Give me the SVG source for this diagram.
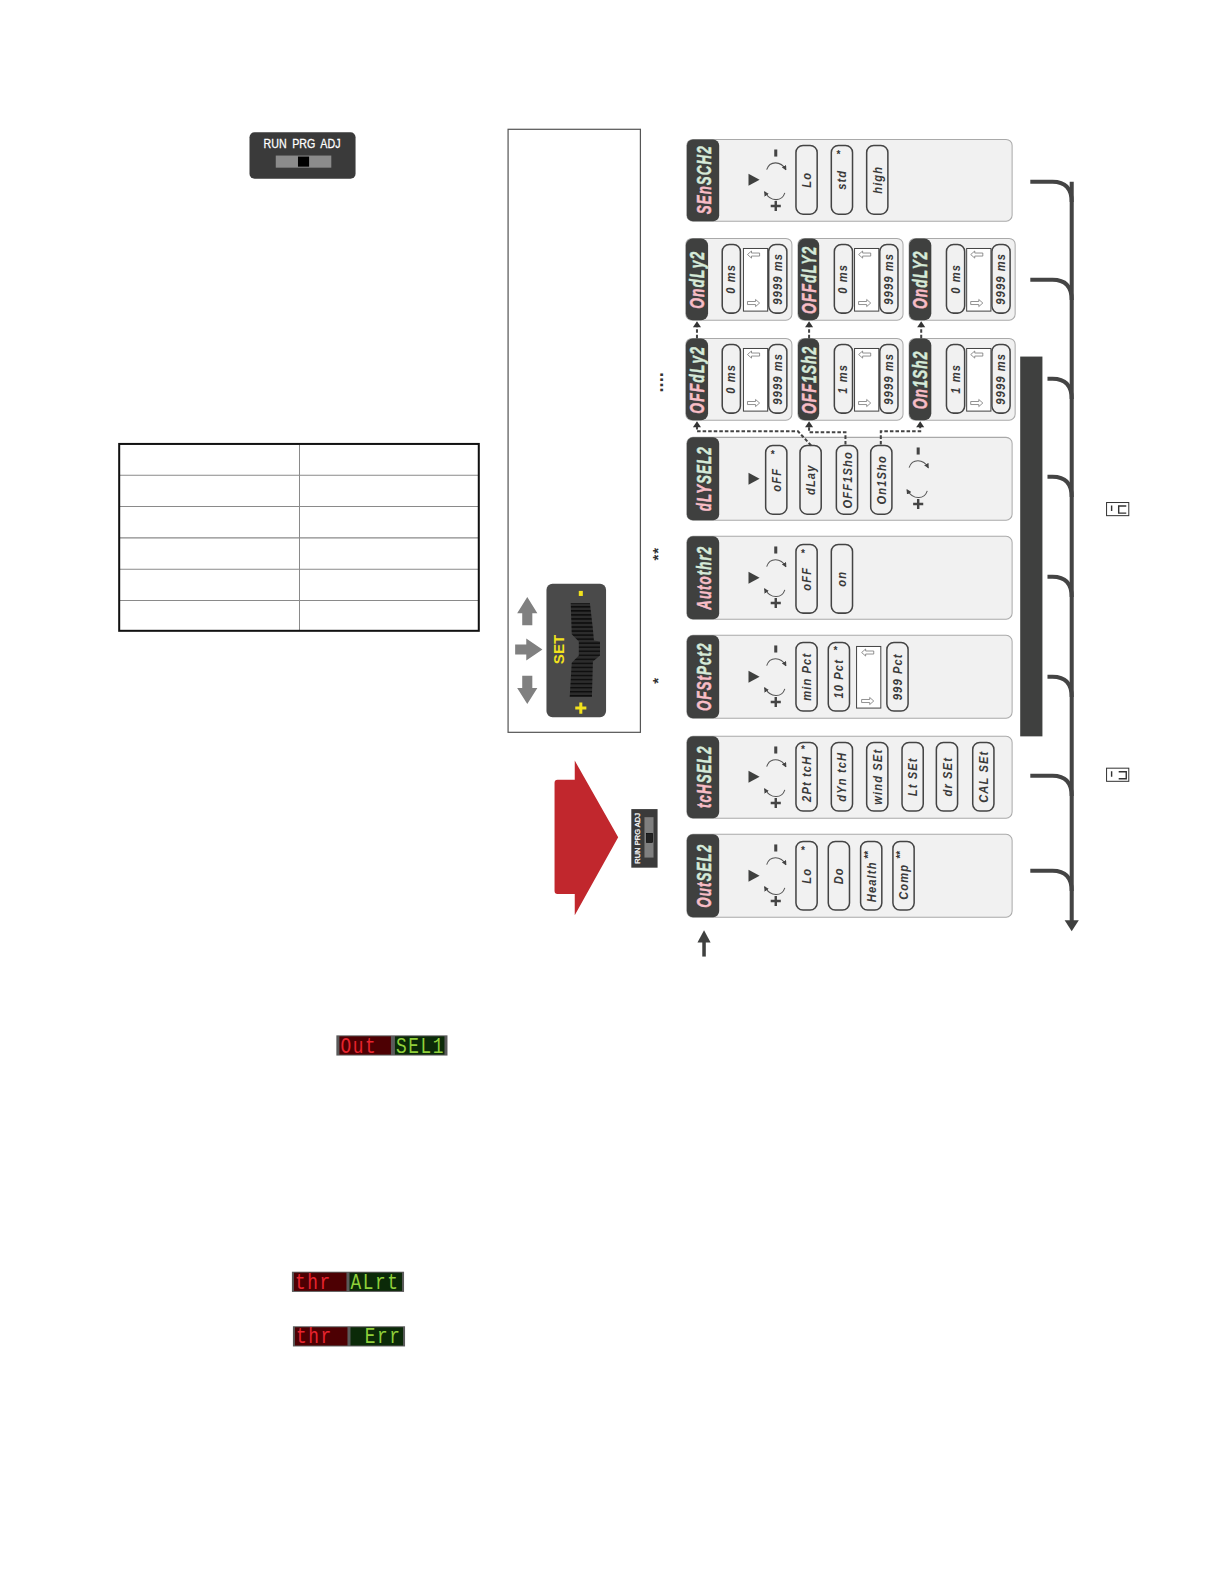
<svg xmlns="http://www.w3.org/2000/svg" width="1224" height="1584" viewBox="0 0 1224 1584">
<style>
text{font-family:"Liberation Sans",Arial,sans-serif}
.card{fill:#f1f1f1;stroke:#a9a9a9;stroke-width:1}
.tt{fill:#3f403f}
.pill{fill:#f1f1f1;stroke:#444;stroke-width:1.5}
.bx{fill:#fff;stroke:#444;stroke-width:1}
.t{font-weight:700;font-style:italic;font-size:20px;text-anchor:middle;fill:#d6ead9;stroke:#d6ead9;stroke-width:.5px;letter-spacing:1.6px}
.ts{font-size:19.500px}
.pk{fill:#f7bdc6;stroke:#f7bdc6}
.l{font-weight:700;font-style:italic;font-size:13px;text-anchor:middle;fill:#3a3a3a;letter-spacing:1.300px}
.st{font-weight:700;font-size:10px;text-anchor:middle;fill:#333}
.sr{font-weight:700;font-size:10px;fill:#333}
.dash{fill:none;stroke:#444;stroke-width:2;stroke-dasharray:3.500 2}
.bus{fill:none;stroke:#444;stroke-width:4}
.seg{font-family:"Liberation Mono",monospace;font-size:22px;letter-spacing:2px}
.sw{fill:#fff;stroke:#fff;stroke-width:.25px}
</style>
<defs>
<marker id="a1" markerWidth="5" markerHeight="5" refX="4" refY="2.5" orient="auto" markerUnits="userSpaceOnUse"><path d="M0 0L5 2.500L0 5Z" fill="#444"/></marker>
<pattern id="rib" width="6" height="4" patternUnits="userSpaceOnUse"><rect width="6" height="4" fill="#2c2c2c"/><rect width="6" height="1.500" fill="#0e0e0e"/></pattern>
<g id="dial">
<rect x="-1.500" y="10" width="3" height="7" fill="#444"/>
<path d="M-5 66H5M0 61V71" stroke="#444" stroke-width="2.400" fill="none"/>
<path d="M-9 30C-6 21 5 21 10 30" fill="none" stroke="#555" marker-end="url(#a1)"/>
<path d="M9 53C6 62 -5 62 -11 52" fill="none" stroke="#555" marker-end="url(#a1)"/>
</g>
<polygon id="tri" points="0,-6 11,0 0,6" fill="#3f403f"/>
<path id="ua" d="M-6 0L-2 -3.500V-1.500H6V1.500H-2V3.500Z" fill="#fff" stroke="#777" stroke-width=".8"/>
<path id="da" d="M6 0L2 -3.500V-1.500H-6V1.500H2V3.500Z" fill="#fff" stroke="#777" stroke-width=".8"/>
</defs>
<g id="page" transform="scale(1.0101)">

<g id="switch-top">
<rect x="247" y="131" width="105" height="46" rx="5" fill="#3a3a3a"/>
<text class="sw" transform="translate(299 147) scale(.88 1)" font-size="12" text-anchor="middle" word-spacing="3">RUN PRG ADJ</text>
<rect x="273" y="154" width="55" height="12" fill="#8b8b8b"/>
<rect x="295" y="155" width="11" height="10" fill="#000"/>
</g>

<g id="table" fill="none">
<path d="M118 470.500H474M118 501.500H474M118 532.500H474M118 563.500H474M118 594.500H474M296.500 440V624" stroke="#8a8a8a" stroke-width="1"/>
<rect x="118" y="439.500" width="356" height="185" stroke="#111" stroke-width="2"/>
</g>

<g id="legend">
<rect x="503" y="128" width="131" height="597" fill="#fff" stroke="#555" stroke-width="1.200"/>
<path d="M522 591L532 607H527V619H517V607H512Z" fill="#808080"/>
<path d="M537 643L521 654V648H510V638H521V632Z" fill="#808080"/>
<path d="M522 697L532 681H527V669H517V681H512Z" fill="#808080"/>
<rect x="541" y="578" width="59" height="132" rx="6" fill="#4a4a4a"/>
<path d="M565 597H584L587 623L588 634L594 635V649L587 655L586 690H564L566 656L573 649V635L566 628Z" fill="url(#rib)"/>
<text transform="translate(558 643) rotate(-90)" font-size="15" font-weight="700" fill="#f2e21d" text-anchor="middle">SET</text>
<rect x="573" y="585" width="4" height="5" fill="#f2e21d"/>
<path d="M569.500 701H580.500M575 695.500V706.500" stroke="#f2e21d" stroke-width="3" fill="none"/>
</g>

<g id="notes" fill="#333" font-weight="700">
<text transform="translate(656.500 388.500) rotate(-90)" font-size="18">....</text>
<text transform="translate(656 555) rotate(-90)" font-size="15" letter-spacing="1">**</text>
<text transform="translate(656 677) rotate(-90)" font-size="15">*</text>
</g>

<g id="enter-arrow">
<path d="M552 772H569V753L612 829L569 906V885H552Q549 885 549 882V775Q549 772 552 772Z" fill="#c1272d"/>
</g>
<g id="switch-small">
<rect x="625" y="801" width="26" height="58" fill="#3a3a3a"/>
<text class="sw" transform="translate(634 830) rotate(-90)" font-size="7.500" text-anchor="middle">RUN PRG ADJ</text>
<rect x="638" y="809" width="9" height="40" fill="#7f7f7f"/>
<rect x="640" y="825" width="6" height="9" fill="#222" stroke="#000" stroke-width=".6"/>
</g>

<g id="SEnSCH2">
<rect class="card" x="680" y="138" width="322" height="81" rx="6"/>
<rect class="tt" x="680" y="138" width="32" height="81" rx="6"/>
<text class="t" transform="translate(704 178) rotate(-90) scale(.66 1)"><tspan class="pk">SEn</tspan>SCH2</text>
<use href="#tri" x="741" y="178"/><use href="#dial" x="768" y="138"/>
<rect class="pill" x="788" y="144" width="21" height="68" rx="7"/><text class="l" transform="translate(803 178) rotate(-90) scale(.85 1)">Lo</text>
<rect class="pill" x="823" y="144" width="21" height="68" rx="7"/><text class="l" transform="translate(838 178) rotate(-90) scale(.85 1)">std</text><text class="st" x="830" y="156">*</text>
<rect class="pill" x="858" y="144" width="21" height="68" rx="7"/><text class="l" transform="translate(873 178) rotate(-90) scale(.85 1)">high</text>
</g>

<g id="OndLy2">
<rect class="card" x="679" y="236" width="105" height="81" rx="6"/>
<rect class="tt" x="679" y="236" width="22" height="81" rx="7"/>
<text class="t ts" transform="translate(697 277) rotate(-90) scale(.7 1)"><tspan class="pk">On</tspan>dLy2</text>
<rect class="pill" x="715" y="242" width="18" height="68" rx="7"/><text class="l" transform="translate(728 276) rotate(-90) scale(.85 1)">0 ms</text>
<rect class="bx" x="736" y="246" width="24" height="62"/><use href="#ua" x="746" y="252"/><use href="#da" x="746" y="300"/>
<rect class="pill" x="761" y="242" width="18" height="68" rx="7"/><text class="l" transform="translate(774 276) rotate(-90) scale(.85 1)">9999 ms</text>
</g>
<g id="OFFdLY2">
<rect class="card" x="790" y="236" width="104" height="81" rx="6"/>
<rect class="tt" x="790" y="236" width="21" height="81" rx="7"/>
<text class="t ts" transform="translate(808 277) rotate(-90) scale(.7 1)"><tspan class="pk">OFF</tspan>dLY2</text>
<rect class="pill" x="826" y="242" width="18" height="68" rx="7"/><text class="l" transform="translate(839 276) rotate(-90) scale(.85 1)">0 ms</text>
<rect class="bx" x="846" y="246" width="24" height="62"/><use href="#ua" x="856" y="252"/><use href="#da" x="856" y="300"/>
<rect class="pill" x="871" y="242" width="18" height="68" rx="7"/><text class="l" transform="translate(884 276) rotate(-90) scale(.85 1)">9999 ms</text>
</g>
<g id="OndLY2">
<rect class="card" x="900" y="236" width="105" height="81" rx="6"/>
<rect class="tt" x="900" y="236" width="22" height="81" rx="7"/>
<text class="t ts" transform="translate(918 277) rotate(-90) scale(.7 1)"><tspan class="pk">On</tspan>dLY2</text>
<rect class="pill" x="937" y="242" width="18" height="68" rx="7"/><text class="l" transform="translate(950 276) rotate(-90) scale(.85 1)">0 ms</text>
<rect class="bx" x="957" y="246" width="24" height="62"/><use href="#ua" x="967" y="252"/><use href="#da" x="967" y="300"/>
<rect class="pill" x="982" y="242" width="18" height="68" rx="7"/><text class="l" transform="translate(995 276) rotate(-90) scale(.85 1)">9999 ms</text>
</g>

<g id="OFFdLy2">
<rect class="card" x="679" y="335" width="105" height="81" rx="6"/>
<rect class="tt" x="679" y="335" width="22" height="81" rx="7"/>
<text class="t ts" transform="translate(697 376) rotate(-90) scale(.7 1)"><tspan class="pk">OFF</tspan>dLy2</text>
<rect class="pill" x="715" y="341" width="18" height="68" rx="7"/><text class="l" transform="translate(728 375) rotate(-90) scale(.85 1)">0 ms</text>
<rect class="bx" x="736" y="345" width="24" height="62"/><use href="#ua" x="746" y="351"/><use href="#da" x="746" y="399"/>
<rect class="pill" x="761" y="341" width="18" height="68" rx="7"/><text class="l" transform="translate(774 375) rotate(-90) scale(.85 1)">9999 ms</text>
</g>
<g id="OFF1Sh2">
<rect class="card" x="790" y="335" width="104" height="81" rx="6"/>
<rect class="tt" x="790" y="335" width="21" height="81" rx="7"/>
<text class="t ts" transform="translate(808 376) rotate(-90) scale(.7 1)"><tspan class="pk">OFF</tspan>1Sh2</text>
<rect class="pill" x="826" y="341" width="18" height="68" rx="7"/><text class="l" transform="translate(839 375) rotate(-90) scale(.85 1)">1 ms</text>
<rect class="bx" x="846" y="345" width="24" height="62"/><use href="#ua" x="856" y="351"/><use href="#da" x="856" y="399"/>
<rect class="pill" x="871" y="341" width="18" height="68" rx="7"/><text class="l" transform="translate(884 375) rotate(-90) scale(.85 1)">9999 ms</text>
</g>
<g id="On1Sh2">
<rect class="card" x="900" y="335" width="105" height="81" rx="6"/>
<rect class="tt" x="900" y="335" width="22" height="81" rx="7"/>
<text class="t ts" transform="translate(918 376) rotate(-90) scale(.7 1)"><tspan class="pk">On</tspan>1Sh2</text>
<rect class="pill" x="937" y="341" width="18" height="68" rx="7"/><text class="l" transform="translate(950 375) rotate(-90) scale(.85 1)">1 ms</text>
<rect class="bx" x="957" y="345" width="24" height="62"/><use href="#ua" x="967" y="351"/><use href="#da" x="967" y="399"/>
<rect class="pill" x="982" y="341" width="18" height="68" rx="7"/><text class="l" transform="translate(995 375) rotate(-90) scale(.85 1)">9999 ms</text>
</g>

<g id="dLYSEL2">
<rect class="card" x="680" y="433" width="322" height="82" rx="6"/>
<rect class="tt" x="680" y="433" width="32" height="82" rx="6"/>
<text class="t" transform="translate(704 474) rotate(-90) scale(.66 1)"><tspan class="pk">dLY</tspan>SEL2</text>
<use href="#tri" x="741" y="474"/><use href="#dial" x="909" y="433"/>
<rect class="pill" x="758" y="441" width="21" height="68" rx="7"/><text class="l" transform="translate(773 475) rotate(-90) scale(.85 1)">oFF</text><text class="st" x="765" y="453">*</text>
<rect class="pill" x="792" y="441" width="21" height="68" rx="7"/><text class="l" transform="translate(807 475) rotate(-90) scale(.85 1)">dLay</text>
<rect class="pill" x="828" y="441" width="21" height="68" rx="7"/><text class="l" transform="translate(843 475) rotate(-90) scale(.85 1)">OFF1Sho</text>
<rect class="pill" x="862" y="441" width="21" height="68" rx="7"/><text class="l" transform="translate(877 475) rotate(-90) scale(.85 1)">On1Sho</text>
</g>

<g id="Autothr2">
<rect class="card" x="680" y="531" width="322" height="82" rx="6"/>
<rect class="tt" x="680" y="531" width="32" height="82" rx="6"/>
<text class="t" transform="translate(704 572) rotate(-90) scale(.66 1)"><tspan class="pk">Auto</tspan>thr2</text>
<use href="#tri" x="741" y="572"/><use href="#dial" x="768" y="531"/>
<rect class="pill" x="788" y="539" width="21" height="68" rx="7"/><text class="l" transform="translate(803 573) rotate(-90) scale(.85 1)">oFF</text><text class="st" x="795" y="551">*</text>
<rect class="pill" x="823" y="539" width="21" height="68" rx="7"/><text class="l" transform="translate(838 573) rotate(-90) scale(.85 1)">on</text>
</g>

<g id="OFStPct2">
<rect class="card" x="680" y="629" width="322" height="82" rx="6"/>
<rect class="tt" x="680" y="629" width="32" height="82" rx="6"/>
<text class="t" transform="translate(704 670) rotate(-90) scale(.66 1)"><tspan class="pk">OFSt</tspan>Pct2</text>
<use href="#tri" x="741" y="670"/><use href="#dial" x="768" y="629"/>
<rect class="pill" x="788" y="636" width="21" height="68" rx="7"/><text class="l" transform="translate(803 670) rotate(-90) scale(.85 1)">min Pct</text>
<rect class="pill" x="820" y="636" width="21" height="68" rx="7"/><text class="l" transform="translate(835 672) rotate(-90) scale(.85 1)">10 Pct</text><text class="st" x="827" y="647">*</text>
<rect class="bx" x="848" y="640" width="24" height="61"/><use href="#ua" x="859" y="646"/><use href="#da" x="859" y="694"/>
<rect class="pill" x="878" y="636" width="21" height="68" rx="7"/><text class="l" transform="translate(893 670) rotate(-90) scale(.85 1)">999 Pct</text>
</g>

<g id="tcHSEL2">
<rect class="card" x="680" y="729" width="322" height="81" rx="6"/>
<rect class="tt" x="680" y="729" width="32" height="81" rx="6"/>
<text class="t" transform="translate(704 769) rotate(-90) scale(.66 1)"><tspan class="pk">tcH</tspan>SEL2</text>
<use href="#tri" x="741" y="769"/><use href="#dial" x="768" y="729"/>
<rect class="pill" x="788" y="735" width="21" height="68" rx="7"/><text class="l" transform="translate(803 771) rotate(-90) scale(.85 1)">2Pt tcH</text><text class="st" x="795" y="745">*</text>
<rect class="pill" x="823" y="735" width="21" height="68" rx="7"/><text class="l" transform="translate(838 769) rotate(-90) scale(.85 1)">dYn tcH</text>
<rect class="pill" x="858" y="735" width="21" height="68" rx="7"/><text class="l" transform="translate(873 769) rotate(-90) scale(.85 1)">wind SEt</text>
<rect class="pill" x="893" y="735" width="21" height="68" rx="7"/><text class="l" transform="translate(908 769) rotate(-90) scale(.85 1)">Lt SEt</text>
<rect class="pill" x="927" y="735" width="21" height="68" rx="7"/><text class="l" transform="translate(942 769) rotate(-90) scale(.85 1)">dr SEt</text>
<rect class="pill" x="963" y="735" width="21" height="68" rx="7"/><text class="l" transform="translate(978 769) rotate(-90) scale(.85 1)">CAL SEt</text>
</g>

<g id="OutSEL2">
<rect class="card" x="680" y="826" width="322" height="82" rx="6"/>
<rect class="tt" x="680" y="826" width="32" height="82" rx="6"/>
<text class="t" transform="translate(704 867) rotate(-90) scale(.66 1)"><tspan class="pk">Out</tspan>SEL2</text>
<use href="#tri" x="741" y="867"/><use href="#dial" x="768" y="826"/>
<rect class="pill" x="788" y="833" width="21" height="68" rx="7"/><text class="l" transform="translate(803 867) rotate(-90) scale(.85 1)">Lo</text><text class="st" x="795" y="845">*</text>
<rect class="pill" x="820" y="833" width="21" height="68" rx="7"/><text class="l" transform="translate(835 867) rotate(-90) scale(.85 1)">Do</text>
<rect class="pill" x="852" y="833" width="21" height="68" rx="7"/><text class="l" transform="translate(867 873) rotate(-90) scale(.85 1)">Health</text><text class="sr" transform="translate(863 850) rotate(-90)">**</text>
<rect class="pill" x="884" y="833" width="21" height="68" rx="7"/><text class="l" transform="translate(899 873) rotate(-90) scale(.85 1)">Comp</text><text class="sr" transform="translate(895 850) rotate(-90)">**</text>
</g>

<g id="icon-1" fill="none" stroke="#333">
<rect x="1095.500" y="497.500" width="22" height="13" fill="#fff" stroke-width="1"/>
<path d="M1100.500 500.500V506M1115 501H1107.500V508H1115" stroke-width="1.400"/>
</g>
<g id="icon-2" fill="none" stroke="#333">
<rect x="1095.500" y="760.500" width="22" height="13" fill="#fff" stroke-width="1"/>
<path d="M1100.500 763.500V769M1107.500 764H1115V771H1107.500" stroke-width="1.400"/>
</g>

<g id="led-out">
<rect x="333" y="1025" width="110" height="20" fill="#5a5a5a"/>
<rect x="336" y="1026" width="51" height="18" fill="#4d0003"/>
<rect x="391" y="1026" width="49" height="18" fill="#0b2a08"/>
<text class="seg" transform="translate(337 1042) scale(.8 1)" fill="#e8242e">Out</text>
<text class="seg" transform="translate(392 1042) scale(.8 1)" fill="#8fd03a">SEL1</text>
</g>
<g id="led-alrt">
<rect x="289" y="1259" width="111" height="20" fill="#5a5a5a"/>
<rect x="291" y="1260" width="52" height="18" fill="#4d0003"/>
<rect x="346" y="1260" width="52" height="18" fill="#0b2a08"/>
<text class="seg" transform="translate(292 1276) scale(.8 1)" fill="#e8242e">thr</text>
<text class="seg" transform="translate(347 1276) scale(.8 1)" fill="#8fd03a">ALrt</text>
</g>
<g id="led-err">
<rect x="290" y="1313" width="111" height="20" fill="#5a5a5a"/>
<rect x="292" y="1314" width="52" height="18" fill="#4d0003"/>
<rect x="347" y="1314" width="52" height="18" fill="#0b2a08"/>
<text class="seg" transform="translate(293 1330) scale(.8 1)" fill="#e8242e">thr</text>
<text class="seg" transform="translate(361 1330) scale(.8 1)" fill="#8fd03a">Err</text>
</g>

<g id="connectors">
<path class="bus" d="M1061 180V912"/>
<path class="bus" d="M1020 180H1042Q1061 180 1061 200"/>
<path class="bus" d="M1020 277H1042Q1061 277 1061 297"/>
<path class="bus" d="M1037 375H1042Q1061 375 1061 395"/>
<path class="bus" d="M1037 472H1042Q1061 472 1061 492"/>
<path class="bus" d="M1037 571H1042Q1061 571 1061 591"/>
<path class="bus" d="M1037 670H1042Q1061 670 1061 690"/>
<path class="bus" d="M1020 768H1042Q1061 768 1061 788"/>
<path class="bus" d="M1020 862H1042Q1061 862 1061 882"/>
<polygon points="1054,911 1068,911 1061,922" fill="#3f403f"/>
<rect x="1010" y="353" width="22" height="376" fill="#3f403f"/>
<path d="M697 947V930" stroke="#3f403f" stroke-width="3.500" fill="none"/>
<polygon points="690.500,933 703.500,933 697,921" fill="#3f403f"/>
<path class="dash" d="M690 335V323"/><polygon points="686,324 694,324 690,318" fill="#333"/>
<path class="dash" d="M801 335V323"/><polygon points="797,324 805,324 801,318" fill="#333"/>
<path class="dash" d="M912 335V323"/><polygon points="908,324 916,324 912,318" fill="#333"/>
<path class="dash" d="M803 441L790 427H690V422"/><polygon points="686,423 694,423 690,417" fill="#333"/>
<path class="dash" d="M837 440V428H801V422"/><polygon points="797,423 805,423 801,417" fill="#333"/>
<path class="dash" d="M872 440V427H911V422"/><polygon points="907,423 915,423 911,417" fill="#333"/>
</g>
</g>
</svg>
